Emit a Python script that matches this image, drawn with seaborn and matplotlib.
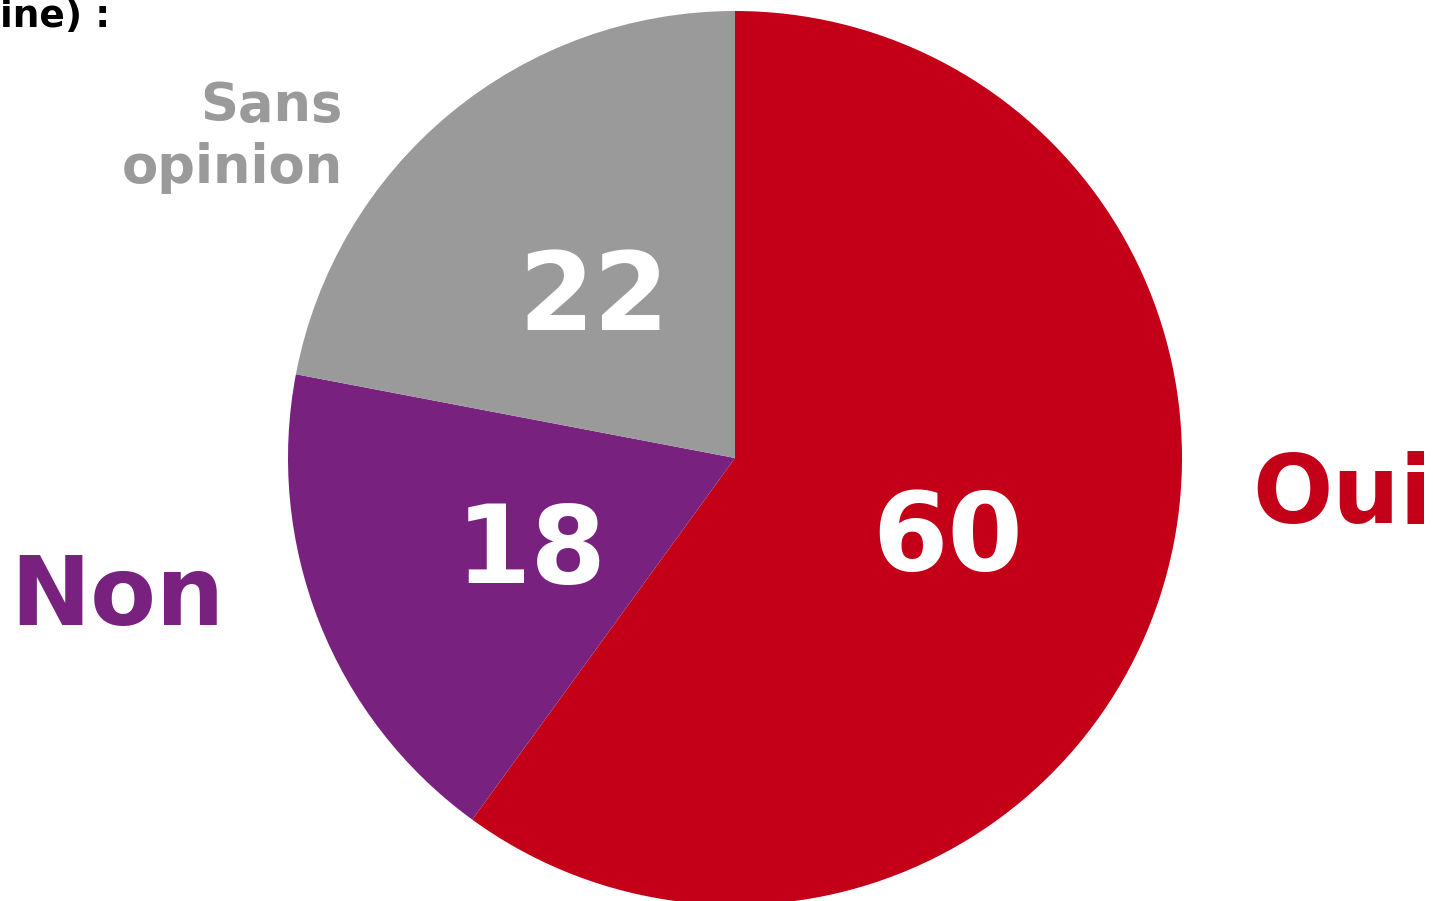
import matplotlib
matplotlib.use("Agg")
import matplotlib.pyplot as plt
import seaborn as sns

sns.set_theme(style="white")
plt.rcParams['font.family'] = ['DejaVu Sans']

categories = ["Oui", "Non", "Sans opinion"]
values = [60, 18, 22]
colors = ["#C40018", "#78217E", "#9A9A9A"]
title_fragment = "ine) :"

W, H = 1433, 901
fig = plt.figure(figsize=(W / 100, H / 100), dpi=100)
ax = fig.add_axes([0, 0, 1, 1])

cx, cy, r = 735, H - 458, 447
ax.pie(values, colors=colors, startangle=90, counterclock=False,
       center=(cx, cy), radius=r, frame=True,
       wedgeprops=dict(linewidth=0))
ax.set_xlim(0, W)
ax.set_ylim(0, H)
ax.set_aspect("equal")
ax.axis("off")

def y(px):
    return H - px

# value labels inside slices
val_pos = [(948, 570), (531, 583), (594, 330)]
for v, (x, yb) in zip(values, val_pos):
    ax.text(x, y(yb), str(v), color="white", fontsize=78, fontweight="bold",
            ha="center", va="baseline")

# category labels
ax.text(1252, y(523), categories[0], color=colors[0], fontsize=68,
        fontweight="bold", ha="left", va="baseline")
ax.text(10, y(625), categories[1], color=colors[1], fontsize=69,
        fontweight="bold", ha="left", va="baseline")
ax.text(343, y(121), "Sans", color=colors[2], fontsize=38,
        fontweight="bold", ha="right", va="baseline")
ax.text(343, y(183), "opinion", color=colors[2], fontsize=38,
        fontweight="bold", ha="right", va="baseline")

ax.text(0, y(27), title_fragment, color="black", fontsize=27,
        fontweight="bold", ha="left", va="baseline")

fig.savefig("out.png", dpi=100, facecolor="white")
